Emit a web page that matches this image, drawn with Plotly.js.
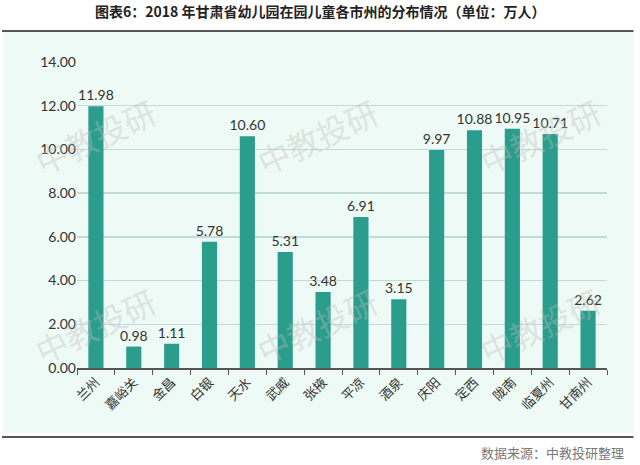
<!DOCTYPE html>
<html>
<head>
<meta charset="utf-8">
<script src="https://cdn.plot.ly/plotly-3.0.1.min.js"></script>
<style>html,body{margin:0;padding:0;background:#fff;}#chart{width:640px;height:465px;}</style>
</head>
<body>
<div id="chart"></div>
<script>
var categories = ["兰州","嘉峪关","金昌","白银","天水","武威","张掖","平凉","酒泉","庆阳","定西","陇南","临夏州","甘南州"];
var values = [11.98, 0.98, 1.11, 5.78, 10.60, 5.31, 3.48, 6.91, 3.15, 9.97, 10.88, 10.95, 10.71, 2.62];
var yTicks = [0, 2, 4, 6, 8, 10, 12, 14];
var titleText = "图表6：2018 年甘肃省幼儿园在园儿童各市州的分布情况（单位：万人）";
var sourceText = "数据来源：中教投研整理";
var watermark = "中教投研";

var cjk = '"Noto Sans CJK SC", "Noto Sans", sans-serif';
var num = 'Lato, "Open Sans", "Noto Sans", sans-serif';

var trace = {
  type: 'bar',
  x: categories,
  y: values,
  marker: {color: '#2a9d8c'},
  texttemplate: '%{y:.2f}',
  textposition: 'outside',
  constraintext: 'none',
  textfont: {family: num, size: 14, color: '#333'},
  cliponaxis: false,
  hoverinfo: 'none'
};

var wmPos = [[0.034,0.758],[0.453,0.758],[0.874,0.758],[0.034,0.14],[0.453,0.14],[0.874,0.14]];
var annotations = wmPos.map(function(p){
  return {xref:'paper', yref:'paper', x:p[0], y:p[1], xanchor:'center', yanchor:'middle',
    text: watermark, showarrow:false,
    textangle:-25, font:{family:cjk, size:32, color:'rgba(190,190,190,0.38)'}};
});
annotations.push({xref:'paper', yref:'paper', x:1.036, y:-0.275, xanchor:'right', yanchor:'middle',
  text: sourceText, showarrow:false, font:{family:cjk, size:13, color:'#777'}});
annotations.push({xref:'paper', yref:'paper', x:0.458, y:1.166, xanchor:'center', yanchor:'middle',
  text: '<b>' + titleText + '</b>', showarrow:false, font:{family:cjk, size:14, color:'#222'}});

var layout = {
  width: 640, height: 465,
  margin: {l:77, r:33, t:62, b:97},
  paper_bgcolor: '#ffffff',
  plot_bgcolor: 'rgba(0,0,0,0)',
  showlegend: false,
  bargap: 0.6,
  xaxis: {
    type: 'category',
    tickangle: -45,
    tickfont: {family: cjk, size: 13, color: '#333'},
    showline: true, linecolor: '#555', linewidth: 1.5,
    ticks: 'outside', tickson: 'boundaries', ticklen: 5, tickcolor: '#555',
    showgrid: false, zeroline: false, fixedrange: true
  },
  yaxis: {
    range: [0, 14],
    tickvals: yTicks,
    tickformat: '.2f',
    tickfont: {family: num, size: 14, color: '#333'},
    showgrid: true, gridcolor: '#c3dadb', gridwidth: 1.5,
    showline: false, zeroline: false, ticks: '', ticklen: 0,
    automargin: false, fixedrange: true
  },
  shapes: [
    {type:'rect', xref:'paper', yref:'paper', x0:-0.1396, x1:1.0509, y0:-0.2124, y1:1.098,
      fillcolor:'#eefaf5', line:{width:0}, layer:'below'},
    {type:'line', xref:'paper', yref:'paper', x0:-0.1415, x1:1.05, y0:1.1013, y1:1.1013,
      line:{color:'#555', width:2}},
    {type:'line', xref:'paper', yref:'paper', x0:-0.1415, x1:1.05, y0:-0.2255, y1:-0.2255,
      line:{color:'#555', width:2}}
  ],
  annotations: annotations
};

Plotly.newPlot('chart', [trace], layout, {staticPlot: true, displayModeBar: false});
</script>
</body>
</html>
